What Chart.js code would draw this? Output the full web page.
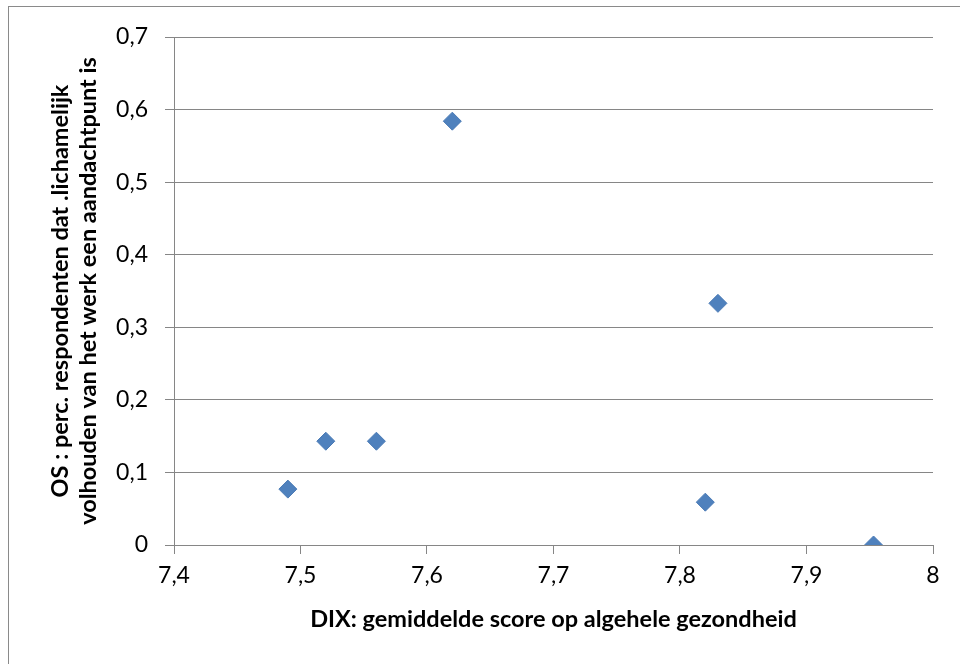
<!DOCTYPE html>
<html>
<head>
<meta charset="utf-8">
<script src="https://cdn.jsdelivr.net/npm/chart.js@4.4.1/dist/chart.umd.min.js"></script>
<style>
  html, body { margin: 0; padding: 0; background: #fff; overflow: hidden; }
  #wrap { position: relative; width: 960px; height: 664px; }
  #frame { position: absolute; left: 8px; top: 6px; width: 1000px; height: 700px;
           border: 1px solid #8a8a8a; box-sizing: border-box; }
  canvas { position: absolute; left: 0; top: 0; }
</style>
</head>
<body>
<div id="wrap">
  <div id="frame"></div>
  <canvas id="chart" width="960" height="664"></canvas>
</div>
<script>
// DIX score per unit versus OS share of respondents
const dixScores = [7.49, 7.52, 7.56, 7.62, 7.83, 7.82, 7.953];
const osShares  = [0.077, 0.143, 0.143, 0.584, 0.333, 0.059, 0.0];

const xTitle = 'DIX: gemiddelde score op algehele gezondheid';
const yTitle = ['OS : perc. respondenten dat .lichamelijk',
                'volhouden van het werk een aandachtpunt is'];

const FONT = 'Lato, Calibri, Carlito, sans-serif';
const GRID = '#868686';

const fmt = v => {
  const r = Math.round(v * 10) / 10;
  return (Number.isInteger(r) ? String(r) : r.toFixed(1)).replace('.', ',');
};

new Chart(document.getElementById('chart'), {
  type: 'scatter',
  data: {
    datasets: [{
      data: dixScores.map((x, i) => ({ x, y: osShares[i] })),
      pointStyle: 'rectRot',
      pointRadius: 9,
      pointHoverRadius: 9,
      backgroundColor: '#4F81BD',
      borderColor: '#4A7AB5',
      borderWidth: 1
    }]
  },
  options: {
    responsive: false,
    animation: false,
    events: [],
    layout: { padding: { top: 37, right: 27, left: 0, bottom: 0 } },
    plugins: { legend: { display: false }, tooltip: { enabled: false } },
    scales: {
      x: {
        type: 'linear',
        min: 7.4, max: 8,
        ticks: { stepSize: 0.1, callback: fmt, color: '#000', padding: 8,
                 font: { family: FONT, size: 23 }, maxRotation: 0 },
        grid: { drawOnChartArea: false, drawTicks: true, tickLength: 9, color: GRID, lineWidth: 1 },
        border: { display: true, color: GRID, width: 1 },
        title: { display: true, text: xTitle, color: '#000',
                 font: { family: FONT, size: 23.5, weight: 'bold', lineHeight: 1.2 },
                 padding: { top: 0, bottom: 30 } },
        afterFit: s => { s.height = 119; }
      },
      y: {
        type: 'linear',
        min: 0, max: 0.7,
        ticks: { stepSize: 0.1, callback: fmt, color: '#000', padding: 17,
                 font: { family: FONT, size: 23 } },
        grid: { drawTicks: true, tickLength: 9, color: GRID, lineWidth: 1 },
        border: { display: true, color: GRID, width: 1 },
        title: { display: true, text: yTitle, color: '#000',
                 font: { family: FONT, size: 23.5, weight: 'bold', lineHeight: 1.2 },
                 padding: { top: 46, bottom: 0 } },
        afterFit: s => { s.width = 174; }
      }
    }
  }
});
</script>
</body>
</html>
